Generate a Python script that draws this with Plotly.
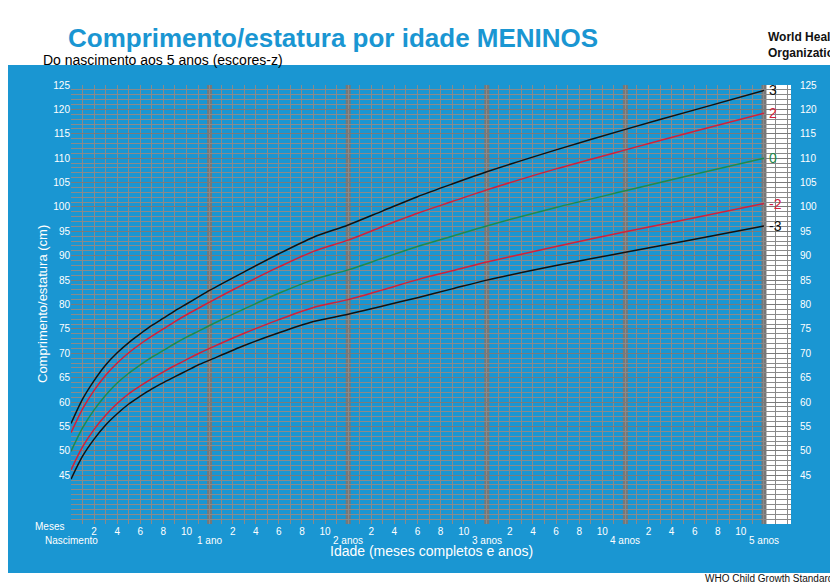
import plotly.graph_objects as go

months = [0,1,2,3,4,5,6,7,8,9,10,11,12,15,18,21,24,27,30,33,36,42,48,54,60]
z_m3 = [44.2,48.9,52.4,55.3,57.6,59.6,61.2,62.7,64.0,65.2,66.4,67.6,68.6,71.6,74.2,76.5,78.0,79.7,81.4,83.2,85.0,88.0,90.7,93.4,96.1]
z_m2 = [46.1,50.8,54.4,57.3,59.7,61.7,63.3,64.8,66.2,67.5,68.7,69.9,71.0,74.1,76.9,79.4,81.0,83.0,85.1,86.9,88.7,91.9,94.9,97.8,100.7]
z_0  = [49.9,54.7,58.4,61.4,63.9,65.9,67.6,69.2,70.6,72.0,73.3,74.5,75.7,79.1,82.3,85.1,87.1,89.5,91.9,94.0,96.1,99.9,103.3,106.7,110.0]
z_p2 = [53.7,58.6,62.4,65.5,68.0,70.1,71.9,73.5,75.0,76.5,77.9,79.2,80.5,84.2,87.7,90.9,93.2,96.0,98.7,101.1,103.5,107.8,111.7,115.5,119.2]
z_p3 = [55.6,60.6,64.4,67.6,70.1,72.2,74.0,75.7,77.2,78.7,80.1,81.5,82.9,86.7,90.4,93.8,96.3,99.2,102.1,104.7,107.2,111.7,115.9,119.9,123.9]
series = [("3", z_p3, "#111111"), ("2", z_p2, "#d2203a"), ("0", z_0, "#1e8a4e"),
          ("-2", z_m2, "#d2203a"), ("-3", z_m3, "#111111")]
year_months = [12, 24, 36, 48, 60]
year_labels = ["1 ano", "2 anos", "3 anos", "4 anos", "5 anos"]
month_ticks = [m for m in range(1, 60) if m % 2 == 0 and m % 12 != 0]
month_text = [str(m % 12) for m in month_ticks]
y_ticks = list(range(45, 126, 5))

BLUE = "#1a96d2"
BOLD = "Arial Black, Arial"
fig = go.Figure()
for name, vals, col in series:
    fig.add_trace(go.Scatter(x=months, y=vals, mode="lines",
                             line=dict(color=col, width=1.5, shape="spline", smoothing=0.8),
                             showlegend=False, hoverinfo="skip"))

def px(p):
    return (p - 63) / 720.0

def py(p):
    return (516 - p) / 439.0

shapes = [dict(type="rect", xref="paper", yref="paper", x0=px(0), x1=px(838), y0=py(565), y1=py(57),
               fillcolor=BLUE, line_width=0, layer="below"),
          dict(type="rect", x0=60, x1=62.34, y0=35, y1=125, fillcolor="white", line_width=0, layer="below")]
for m in year_months:
    shapes.append(dict(type="line", x0=m, x1=m, y0=35, y1=125, line=dict(color="#777777", width=5), layer="below"))

ann = []
for name, vals, col in series:
    ann.append(dict(x=60.3, y=vals[-1], text=name, showarrow=False, xanchor="left",
                    font=dict(color=col, size=14, family="Arial")))
for m, t in zip(year_months, year_labels):
    ann.append(dict(x=m, y=py(540), yref="paper", text=t, showarrow=False,
                    font=dict(color="white", size=10, family=BOLD)))
ann.append(dict(x=0, y=py(540), yref="paper", text="Nascimento", showarrow=False,
                font=dict(color="white", size=10, family=BOLD)))
ann.append(dict(x=px(58), xref="paper", xanchor="right", y=py(526), yref="paper", text="Meses", showarrow=False,
                font=dict(color="white", size=10, family=BOLD)))
for v in y_ticks:
    ann.append(dict(x=px(790), xref="paper", xanchor="left", y=v, text=str(v), showarrow=False,
                    font=dict(color="white", size=10, family=BOLD)))
ann.append(dict(x=0.5, xref="paper", y=py(553), yref="paper", text="Idade (meses completos e anos)",
                showarrow=False, font=dict(color="white", size=14, family="Arial")))
ann.append(dict(x=px(25), xref="paper", y=0.5, yref="paper", textangle=-90, text="Comprimento/estatura (cm)",
                showarrow=False, font=dict(color="white", size=13, family="Arial")))
ann.append(dict(x=px(58), xref="paper", xanchor="left", y=py(13), yref="paper",
                text="<b>Comprimento/estatura por idade MENINOS</b>", showarrow=False,
                font=dict(color=BLUE, size=26, family="Arial")))
ann.append(dict(x=px(33), xref="paper", xanchor="left", y=py(42), yref="paper",
                text="Do nascimento aos 5 anos (escores-z)", showarrow=False,
                font=dict(color="black", size=14, family="Arial")))
ann.append(dict(x=px(836), xref="paper", xanchor="right", y=py(20), yref="paper",
                text="<b>World Health<br>Organization</b>", align="left", showarrow=False,
                font=dict(color="#111", size=12, family="Arial")))
ann.append(dict(x=px(832), xref="paper", xanchor="right", y=py(578), yref="paper",
                text="WHO Child Growth Standards", showarrow=False,
                font=dict(color="#111", size=10, family="Arial")))

fig.update_layout(
    width=838, height=586, margin=dict(l=63, r=55, t=77, b=70, autoexpand=False),
    paper_bgcolor="white", plot_bgcolor="white", shapes=shapes, annotations=ann,
    xaxis=dict(range=[0, 62.34], tickmode="array", tickvals=month_ticks, ticktext=month_text,
               tickfont=dict(color="white", size=10, family=BOLD), automargin=False,
               showgrid=True, gridcolor="#8a8a8a", gridwidth=1, zeroline=False, showline=False,
               minor=dict(dtick=1, showgrid=True, gridcolor="#8a8a8a", gridwidth=1)),
    yaxis=dict(range=[35, 125], tickmode="array", tickvals=y_ticks, automargin=False,
               tickfont=dict(color="white", size=10, family=BOLD),
               showgrid=True, gridcolor="#7a7a7a", gridwidth=1, zeroline=False, showline=False,
               minor=dict(dtick=1, showgrid=True, gridcolor="#8a8a8a", gridwidth=1)),
)
fig.write_html("out.html")
